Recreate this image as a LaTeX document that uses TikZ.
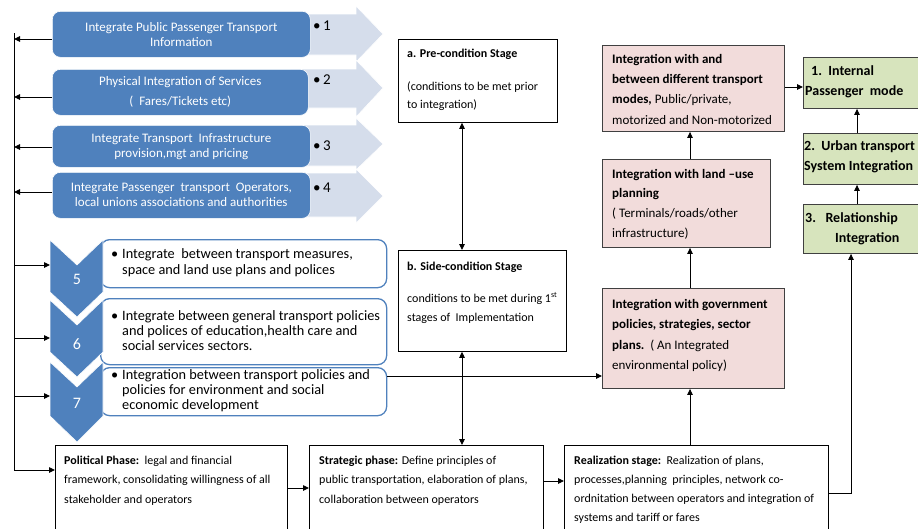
\documentclass[tikz,border=0pt]{standalone}
\usepackage{fontspec}
\setmainfont{Carlito}
\usetikzlibrary{arrows.meta}
\definecolor{sblue}{RGB}{79,129,189}
\definecolor{lblue}{RGB}{213,221,235}
\definecolor{pinkf}{RGB}{242,220,219}
\definecolor{greenf}{RGB}{215,228,189}
\definecolor{bord}{RGB}{64,64,64}
\tikzset{
  arr/.style={-{Triangle[length=6pt,width=5.5pt]}, line width=0.9pt},
  dblarr/.style={{Triangle[length=6pt,width=5.5pt]}-{Triangle[length=6pt,width=5.5pt]}, line width=0.9pt},
  lightarrow/.style={fill=lblue, draw=white, line width=0.6pt},
  bluebox/.style={draw=white, line width=0.6pt, fill=sblue, rounded corners=8pt, text=white,
    font=\fontsize{13}{15}\selectfont, align=center, inner sep=0pt, anchor=north west},
  chevbox/.style={draw=sblue, line width=1.3pt, fill=white, rounded corners=9pt, anchor=north west, inner sep=0pt},
  chev/.style={fill=sblue, draw=white, line width=0.6pt},
  wbox/.style={draw=black, line width=0.8pt, fill=white, anchor=north west, inner sep=0pt},
  pbox/.style={draw=bord, line width=0.9pt, fill=pinkf, anchor=north west, inner sep=0pt},
  gbox/.style={draw=bord, line width=0.9pt, fill=greenf, anchor=north west, inner sep=0pt},
  txt/.style={anchor=north west, inner sep=0pt, align=left},
  numlbl/.style={inner sep=0pt, font=\fontsize{15}{15}\selectfont},
  chevlbl/.style={inner sep=0pt, text=white, font=\fontsize{16}{16}\selectfont}
}
\begin{document}
\begin{tikzpicture}[x=1pt,y=-1pt]
\useasboundingbox (0,0) rectangle (918,528);
\clip (0,0) rectangle (918,528);
\fill[white] (0,0) rectangle (918,528);

% light block arrows
\draw[lightarrow] (290,14) -- (356,14) -- (356,6) -- (383,34) -- (356,62) -- (356,55) -- (290,55) -- cycle;
\draw[lightarrow] (290,69) -- (356,69) -- (356,60) -- (383,88) -- (356,117) -- (356,108) -- (290,108) -- cycle;
\draw[lightarrow] (290,125) -- (356,125) -- (356,118) -- (383,144) -- (356,170) -- (356,166) -- (290,166) -- cycle;
\draw[lightarrow] (290,173) -- (356,173) -- (356,169) -- (383,196) -- (356,223) -- (356,217) -- (290,217) -- cycle;

% blue boxes
\node[bluebox, minimum width=258pt, minimum height=46pt] (b1) at (52,11) {Integrate Public Passenger Transport\\Information};
\node[bluebox, minimum width=256pt, minimum height=46pt] (b2) at (52,69) {Physical Integration of Services\\[5pt](\ \ Fares/Tickets etc)};
\node[bluebox, minimum width=258pt, minimum height=42pt] (b3) at (52,125) {Integrate Transport\ \ Infrastructure\\provision,mgt and pricing};
\node[bluebox, minimum width=258pt, minimum height=46pt] (b4) at (52,172) {Integrate Passenger\ \ transport\ \ Operators,\\local unions associations and authorities};

\node[numlbl, anchor=west] (n1) at (313,26) {\textbullet\,1};
\node[numlbl, anchor=west] (n2) at (313,80) {\textbullet\,2};
\node[numlbl, anchor=west] (n3) at (313,146) {\textbullet\,3};
\node[numlbl, anchor=west] (n4) at (313,188) {\textbullet\,4};

% chevron boxes
\node[chevbox, minimum width=286pt, minimum height=48pt] (cb5) at (100,239) {};
\node[chevbox, minimum width=286pt, minimum height=66pt] (cb6) at (100,298) {};
\node[chevbox, minimum width=286pt, minimum height=48pt] (cb7) at (100,367) {};

\node[txt, font=\fontsize{14.3}{15.8}\selectfont] (t5) at (111,247) {\rule{0pt}{11pt}\makebox[11pt][l]{\textbullet}Integrate\ \ between transport measures,\\\hspace*{11pt}space and land use plans and polices};
\node[txt, font=\fontsize{14.3}{15}\selectfont] (t6) at (111,309) {\rule{0pt}{11pt}\makebox[11pt][l]{\textbullet}Integrate between general transport policies\\\hspace*{11pt}and polices of education,health care and\\\hspace*{11pt}social services sectors.};
\node[txt, font=\fontsize{14.3}{15}\selectfont] (t7) at (111,368) {\rule{0pt}{11pt}\makebox[11pt][l]{\textbullet}Integration between transport policies and\\\hspace*{11pt}policies for environment and social\\\hspace*{11pt}economic development};

% chevrons
\draw[chev] (50,240) -- (77,265) -- (103,240) -- (103,292) -- (77,317) -- (50,292) -- cycle;
\draw[chev] (50,300) -- (77,325) -- (103,300) -- (103,352) -- (77,377) -- (50,352) -- cycle;
\draw[chev] (50,362) -- (77,387) -- (103,362) -- (103,416) -- (77,442) -- (50,416) -- cycle;
\node[chevlbl] (l5) at (77,279) {5};
\node[chevlbl] (l6) at (77,344) {6};
\node[chevlbl] (l7) at (77,403) {7};
\coordinate (c5) at (50,265);
\coordinate (c6) at (50,338);
\coordinate (c7) at (50,396);

% middle white boxes
\node[wbox, minimum width=159pt, minimum height=83pt] (pre) at (398,39) {};
\node[txt, font=\fontsize{12}{18}\selectfont] (tpre) at (407,47) {\rule{0pt}{10pt}\textbf{a. Pre-condition Stage}\\[15pt](conditions to be met prior\\to integration)};
\node[wbox, minimum width=168pt, minimum height=101pt] (side) at (398,250) {};
\node[txt, font=\fontsize{12}{19}\selectfont] (tside) at (407,260) {\rule{0pt}{10pt}\textbf{b. Side-condition Stage}\\[13pt]conditions to be met during 1\textsuperscript{st}\\stages of\ \ Implementation};

% bottom boxes
\node[wbox, minimum width=232pt, minimum height=100pt] (pol) at (55,445) {};
\node[txt, font=\fontsize{12}{19.5}\selectfont] (tpol) at (64,454) {\rule{0pt}{10pt}\textbf{Political Phase:}\ \ legal and financial\\framework, consolidating willingness of all\\stakeholder and operators};
\node[wbox, minimum width=234pt, minimum height=100pt] (str) at (309,445) {};
\node[txt, font=\fontsize{12}{19.5}\selectfont] (tstr) at (319,454) {\rule{0pt}{10pt}\textbf{Strategic phase:} Define principles of\\public transportation, elaboration of plans,\\collaboration between operators};
\node[wbox, minimum width=264pt, minimum height=100pt] (real) at (564,445) {};
\node[txt, font=\fontsize{12}{19}\selectfont] (treal) at (574,454) {\rule{0pt}{10pt}\textbf{Realization stage:}\ \ Realization of plans,\\processes,planning\ \ principles, network co-\\ordnitation between operators and integration of\\systems and tariff or fares};

% pink boxes
\node[pbox, minimum width=182pt, minimum height=86pt] (top) at (602,45) {};
\node[txt, font=\fontsize{13}{20.3}\selectfont] (ttop) at (612,53) {\rule{0pt}{10pt}\textbf{Integration with and}\\\textbf{between different transport}\\\textbf{modes,} Public/private,\\motorized and Non-motorized};
\node[pbox, minimum width=168pt, minimum height=88pt] (mid) at (602,159) {};
\node[txt, font=\fontsize{13}{19.7}\selectfont] (tmid) at (612,168) {\rule{0pt}{10pt}\textbf{Integration with land –use}\\\textbf{planning}\\( Terminals/roads/other\\infrastructure)};
\node[pbox, minimum width=182pt, minimum height=100pt] (gov) at (602,288) {};
\node[txt, font=\fontsize{13}{20.5}\selectfont] (tgov) at (612,298) {\rule{0pt}{10pt}\textbf{Integration with government}\\\textbf{policies, strategies, sector}\\\textbf{plans.}\ \ ( An Integrated\\environmental policy)};

% green boxes
\node[gbox, minimum width=130pt, minimum height=51pt] (g1) at (803,57) {};
\node[txt, font=\bfseries\fontsize{14}{20}\selectfont] (tg1) at (805,64) {\rule{0pt}{11pt}\hspace*{6pt}1.\ \ Internal\\Passenger\ \ mode};
\node[gbox, minimum width=130pt, minimum height=51pt] (g2) at (803,133) {};
\node[txt, font=\bfseries\fontsize{14}{20}\selectfont] (tg2) at (804,139) {\rule{0pt}{11pt}2.\ \ Urban transport\\System Integration};
\node[gbox, minimum width=130pt, minimum height=49pt] (g3) at (803,204) {};
\node[txt, font=\bfseries\fontsize{14}{20}\selectfont] (tg3) at (805,211) {\rule{0pt}{11pt}3.\ \ \ Relationship\\\hspace*{30pt}Integration};

% left spine
\coordinate (sTop) at (14,33);
\coordinate (sBot) at (14,470);
\coordinate (s1) at (14,39);
\coordinate (s2) at (14,97);
\coordinate (s3) at (14,147);
\coordinate (s4) at (14,192);
\draw[line width=0.9pt] (sTop) -- (sBot);
\draw[arr] (b1.west |- s1) -- (s1);
\draw[arr] (b2.west |- s2) -- (s2);
\draw[arr] (b3.west |- s3) -- (s3);
\draw[arr] (b4.west |- s4) -- (s4);
\draw[arr] (sTop |- c5) -- (c5);
\draw[arr] (sTop |- c6) -- (c6);
\draw[arr] (sTop |- c7) -- (c7);
\draw[arr] (sBot) -- (sBot -| pol.west);

% other connectors
\coordinate (h7) at (386,376);
\draw[arr] (cb7.east |- h7) -- (gov.west |- h7);
\coordinate (ax) at (462,0);
\draw[dblarr] (pre.south -| ax) -- (side.north -| ax);
\draw[dblarr] (side.south -| ax) -- (str.north -| ax);
\coordinate (yps) at (0,488);
\draw[arr] (pol.east |- yps) -- (str.west |- yps);
\coordinate (ysr) at (0,481);
\draw[arr] (str.east |- ysr) -- (real.west |- ysr);
\coordinate (ax2) at (690,0);
\draw[arr] (real.north -| ax2) -- (gov.south -| ax2);
\draw[arr] (gov.north -| ax2) -- (mid.south -| ax2);
\draw[arr] (mid.north -| ax2) -- (top.south -| ax2);
\coordinate (yg) at (0,87);
\draw[arr] (top.east |- yg) -- (g1.west |- yg);
\coordinate (ax3) at (857,0);
\draw[arr] (g2.north -| ax3) -- (g1.south -| ax3);
\draw[arr] (g3.north -| ax3) -- (g2.south -| ax3);
\coordinate (rc) at (851,493);
\draw[arr] (real.east |- rc) -- (rc) -- (g3.south -| rc);
\end{tikzpicture}
\end{document}
